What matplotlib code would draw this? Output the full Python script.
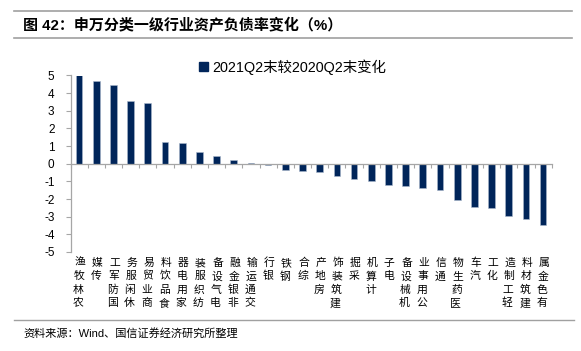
import matplotlib
matplotlib.use("Agg")
import matplotlib.pyplot as plt
from matplotlib.patches import Patch
from matplotlib.lines import Line2D

categories = ["农林牧渔", "传媒", "国防军工", "休闲服务", "商业贸易", "食品饮料", "家用电器",
              "纺织服装", "电气设备", "非银金融", "交通运输", "银行", "钢铁", "综合", "房地产",
              "建筑装饰", "采掘", "计算机", "电子", "机械设备", "公用事业", "通信", "医药生物",
              "汽车", "化工", "轻工制造", "建筑材料", "有色金属"]
values = [5.06, 4.68, 4.49, 3.57, 3.46, 1.23, 1.20, 0.67, 0.46, 0.20, 0.07, -0.06, -0.36,
          -0.41, -0.49, -0.72, -0.86, -1.00, -1.20, -1.26, -1.38, -1.49, -2.06, -2.46,
          -2.53, -2.95, -3.12, -3.49]
yticks = [-5, -4, -3, -2, -1, 0, 1, 2, 3, 4, 5]
series_name = "2021Q2末较2020Q2末变化"
title = "图 42：申万分类一级行业资产负债率变化（%）"
source = "资料来源：Wind、国信证券经济研究所整理"

W, H = 581, 351
fig = plt.figure(figsize=(W / 100, H / 100), dpi=100)

CJK = ["Noto Sans CJK SC", "DejaVu Sans"]
LAT = ["Liberation Sans", "Noto Sans CJK SC", "DejaVu Sans"]
GRAY = "#A6A6A6"
BAR = "#00255A"

left, right, top, bottom = 70.5, 551.7, 75.5, 252.0
ax = fig.add_axes([left / W, 1 - bottom / H, (right - left) / W, (bottom - top) / H])

x = list(range(len(categories)))
bars = ax.bar(x, values, width=0.39, color=BAR, edgecolor="#A9B8CC", linewidth=0.4,
              label=series_name, zorder=2)

ax.set_xlim(-0.5, len(categories) - 0.5)
ax.set_ylim(-5, 5)
ax.set_yticks(yticks)
ax.set_yticklabels([str(v) for v in yticks], family=LAT, fontsize=8.5)
ax.tick_params(axis="y", direction="out", length=3.5, width=0.8, color=GRAY, pad=8)

ax.spines["top"].set_visible(False)
ax.spines["right"].set_visible(False)
ax.spines["left"].set_color(GRAY)
ax.spines["left"].set_linewidth(0.9)
ax.spines["bottom"].set_position(("data", 0))
ax.spines["bottom"].set_color(GRAY)
ax.spines["bottom"].set_linewidth(0.9)
ax.set_xticks([i - 0.5 for i in range(len(categories) + 1)])
ax.set_xticklabels([])
ax.tick_params(axis="x", direction="out", length=3, width=0.8, color=GRAY)

# stacked vertical category labels (upright characters, reading bottom-to-top)
step = 13.4
for i, lab in enumerate(categories):
    chars = list(reversed(lab))
    for k, ch in enumerate(chars):
        ax.annotate(ch, xy=(i, 0), xycoords=ax.get_xaxis_transform(),
                    xytext=(1.0 - 0.8 * k, -(11 + k * step)), textcoords="offset pixels",
                    ha="center", va="center", fontsize=7.8, family=CJK, color="black")

leg = ax.legend(handles=[Patch(facecolor=BAR, edgecolor=BAR)], labels=[series_name],
                loc="center left", bbox_to_anchor=(199 / W, 1 - 67 / H),
                bbox_transform=fig.transFigure, frameon=False,
                handlelength=0.6, handleheight=0.6, handletextpad=0.35,
                borderpad=0, borderaxespad=0, prop={"family": LAT, "size": 10.4})

# header / footer
fig.add_artist(Line2D([14 / W, 572 / W], [1 - 10.7 / H, 1 - 10.7 / H], color="#A0A0A0", lw=1.2))
fig.add_artist(Line2D([14 / W, 572 / W], [1 - 37.7 / H, 1 - 37.7 / H], color="#A0A0A0", lw=1.2))
fig.add_artist(Line2D([14 / W, 574 / W], [1 - 319.5 / H, 1 - 319.5 / H], color="#A0A0A0", lw=1.0))
fig.text(23 / W, 1 - 24.5 / H, title, ha="left", va="center", fontsize=10.8,
         fontweight="bold", family=LAT, color="black")
fig.text(23 / W, 1 - 333 / H, source, ha="left", va="center", fontsize=8,
         family=LAT, color="black")

fig.savefig("out.png", dpi=100)
